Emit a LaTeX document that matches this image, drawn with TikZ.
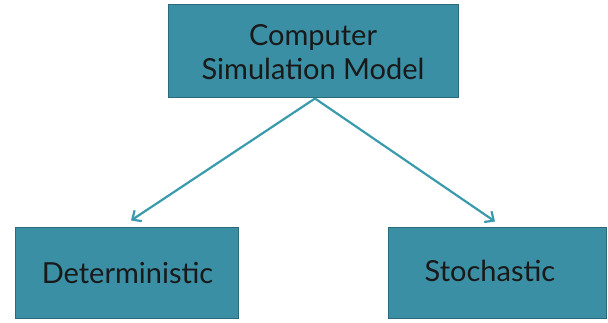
\documentclass[tikz,border=0pt]{standalone}
\usepackage{fontspec}
\setmainfont{Lato}
\usetikzlibrary{arrows.meta}
\definecolor{boxfill}{HTML}{3A8FA5}
\definecolor{boxline}{HTML}{2A6A7A}
\definecolor{arrowc}{HTML}{3A9BAD}
\tikzset{
  box/.style={draw=boxline, line width=1pt, fill=boxfill, inner sep=0pt, align=center, font=\fontsize{29}{34}\selectfont, text=black!90},
  lbl/.style={font=\fontsize{29}{34}\selectfont, text=black!90},
  conn/.style={draw=arrowc, line width=2.2pt, -{Straight Barb[length=7pt, width=13pt, line width=2.2pt]}}
}
\begin{document}
\begin{tikzpicture}[x=1pt,y=1pt]
\useasboundingbox[fill=white] (0,0) rectangle (608,322);
\node[box, minimum width=290pt, minimum height=93pt] (top) at (313,270.5) {};
\node[lbl, align=center] (topt) at ([yshift=-1pt]top.center) {Computer\\Simulation Model};
\node[box, minimum width=223pt, minimum height=91pt] (det) at (126.5,49.5) {};
\node[lbl] (dett) at ([xshift=1pt]det.center) {Deterministic};
\node[box, minimum width=218pt, minimum height=91pt] (sto) at (497,49.5) {};
\node[lbl] (stot) at ([xshift=-7pt,yshift=2pt]sto.center) {Stochastic};
\coordinate (topmid) at ([xshift=2pt]top.south);
\draw[conn] (topmid) -- ([xshift=4.5pt,yshift=6pt]det.north);
\draw[conn] (topmid) -- ([xshift=-2pt,yshift=5pt]sto.north);
\end{tikzpicture}
\end{document}
